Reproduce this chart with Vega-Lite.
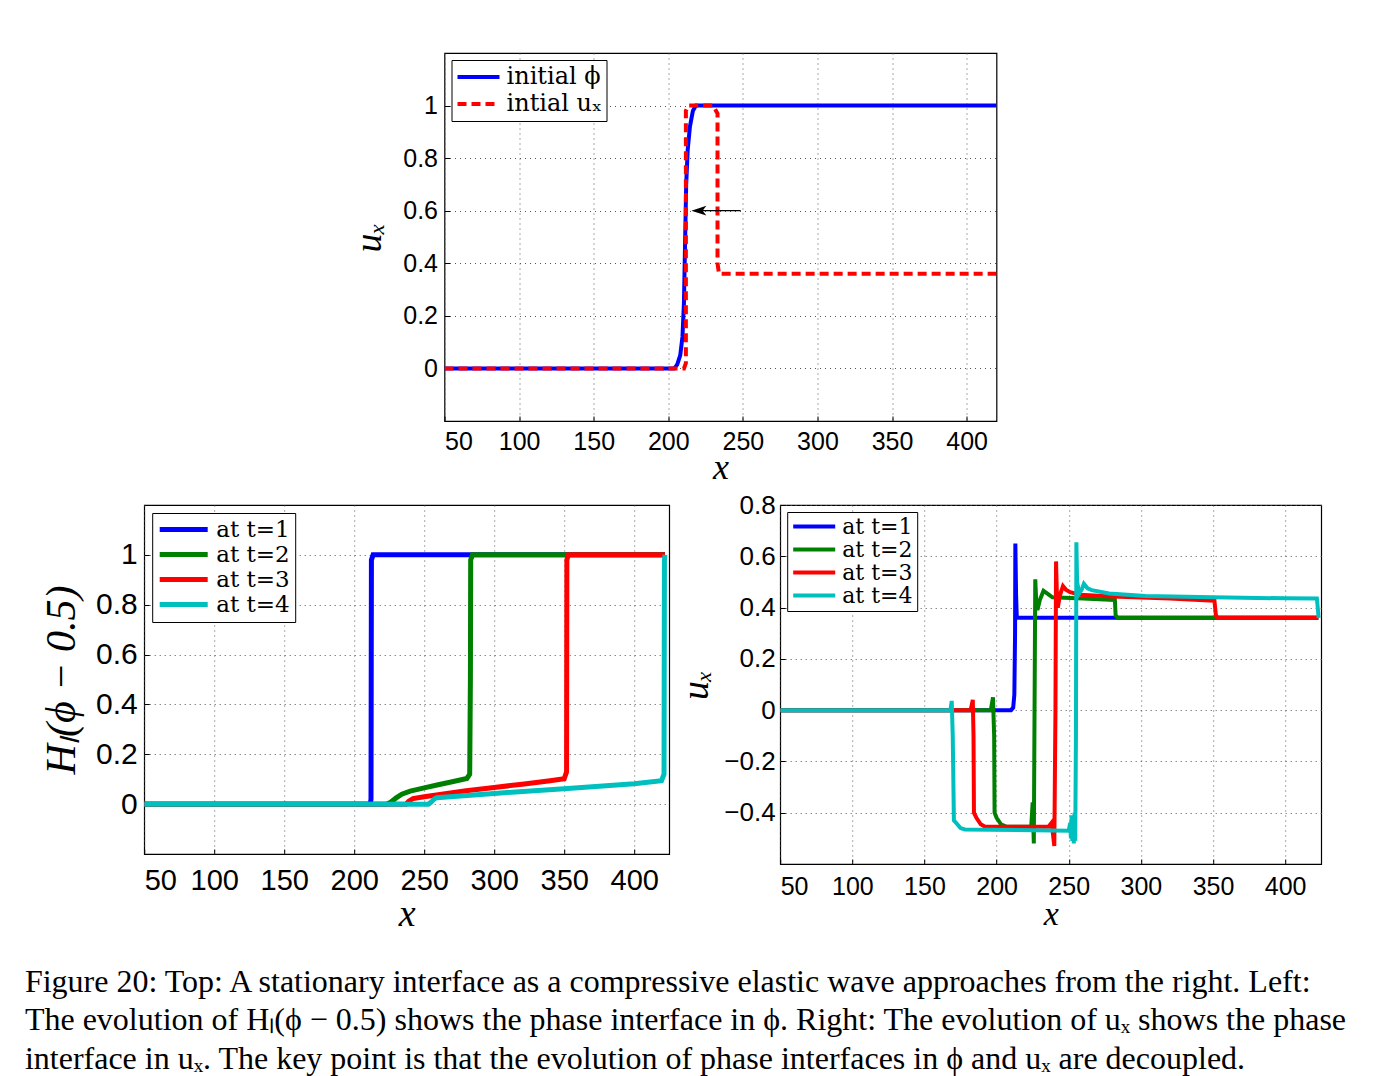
{
  "$schema": "https://vega.github.io/schema/vega-lite/v6.json",
  "background": "white",
  "padding": {"left": 24, "top": 52, "right": 5, "bottom": 5},
  "title": {
    "text": [
      "Figure 20: Top: A stationary interface as a compressive elastic wave approaches from the right. Left:",
      "The evolution of Hₗ(ϕ − 0.5) shows the phase interface in ϕ. Right: The evolution of uₓ shows the phase",
      "interface in uₓ. The key point is that the evolution of phase interfaces in ϕ and uₓ are decoupled."
    ],
    "orient": "bottom",
    "anchor": "start",
    "frame": "bounds",
    "font": "Liberation Serif",
    "fontSize": 32,
    "fontWeight": "normal",
    "color": "black",
    "lineHeight": 38.5,
    "offset": 33,
    "dx": -15
  },
  "spacing": 5,
  "center": true,
  "resolve": {"scale": {"x": "independent", "y": "independent", "color": "independent", "strokeDash": "independent"}, "legend": {"color": "independent", "strokeDash": "independent"}},
  "vconcat": [
    {
      "hconcat": [
        {
          "width": 552,
          "height": 368,
          "layer": [
            {
              "data": {"values": [
                {"x": 50, "y": 0, "s": "initial ϕ"}, {"x": 204, "y": 0, "s": "initial ϕ"}, {"x": 206, "y": 0.015, "s": "initial ϕ"},
                {"x": 208, "y": 0.05, "s": "initial ϕ"}, {"x": 209.5, "y": 0.12, "s": "initial ϕ"}, {"x": 210.5, "y": 0.25, "s": "initial ϕ"},
                {"x": 211, "y": 0.4, "s": "initial ϕ"}, {"x": 211.5, "y": 0.55, "s": "initial ϕ"}, {"x": 212, "y": 0.7, "s": "initial ϕ"},
                {"x": 213, "y": 0.83, "s": "initial ϕ"}, {"x": 214.5, "y": 0.92, "s": "initial ϕ"}, {"x": 216.5, "y": 0.98, "s": "initial ϕ"},
                {"x": 218.5, "y": 1, "s": "initial ϕ"}, {"x": 420, "y": 1, "s": "initial ϕ"},
                {"x": 50, "y": 0, "s": "intial uₓ"}, {"x": 210.5, "y": 0, "s": "intial uₓ"}, {"x": 211.8, "y": 0.02, "s": "intial uₓ"},
                {"x": 211.8, "y": 0.98, "s": "intial uₓ"}, {"x": 213.5, "y": 1, "s": "intial uₓ"}, {"x": 230, "y": 1, "s": "intial uₓ"},
                {"x": 233, "y": 0.97, "s": "intial uₓ"}, {"x": 233, "y": 0.4, "s": "intial uₓ"}, {"x": 234, "y": 0.36, "s": "intial uₓ"},
                {"x": 420, "y": 0.36, "s": "intial uₓ"}
              ]},
              "mark": {"type": "line", "strokeWidth": 4, "clip": true},
              "encoding": {
                "x": {"field": "x", "type": "quantitative", "scale": {"domain": [50, 420], "nice": false, "zero": false},
                      "axis": {"title": "x", "values": [50, 100, 150, 200, 250, 300, 350, 400], "labelFontSize": 25, "titleFontSize": 36, "labelPadding": 13, "titlePadding": -4}},
                "y": {"field": "y", "type": "quantitative", "scale": {"domain": [-0.2, 1.2], "nice": false, "zero": false},
                      "axis": {"title": "uₓ", "values": [0, 0.2, 0.4, 0.6, 0.8, 1], "format": "~g", "labelFontSize": 25, "titleFontSize": 38, "labelPadding": 12, "titlePadding": 14}},
                "color": {"field": "s", "type": "nominal", "scale": {"domain": ["initial ϕ", "intial uₓ"], "range": ["#0000ff", "#ff0000"]},
                          "legend": {"title": null, "orient": "top-left", "offset": 7, "padding": 4, "strokeColor": "black", "fillColor": "white", "symbolType": "stroke", "symbolSize": 1764, "symbolStrokeWidth": 4, "labelFont": "DejaVu Serif", "labelFontSize": 24, "labelColor": "black", "labelOffset": 5, "clipHeight": 26, "rowPadding": 1}},
                "strokeDash": {"field": "s", "type": "nominal", "scale": {"domain": ["initial ϕ", "intial uₓ"], "range": [[1, 0], [9, 5]]},
                          "legend": {"title": null, "orient": "top-left", "offset": 7, "padding": 4, "strokeColor": "black", "fillColor": "white", "symbolType": "stroke", "symbolSize": 1764, "symbolStrokeWidth": 4, "labelFont": "DejaVu Serif", "labelFontSize": 24, "labelColor": "black", "labelOffset": 5, "clipHeight": 26, "rowPadding": 1}}
              }
            },
            {
              "data": {"values": [{"xa": 221, "xb": 248.5, "y": 0.6}]},
              "mark": {"type": "rule", "color": "black", "strokeWidth": 1.3},
              "encoding": {
                "x": {"field": "xa", "type": "quantitative"},
                "x2": {"field": "xb"},
                "y": {"field": "y", "type": "quantitative"}
              }
            },
            {
              "data": {"values": [{"x": 220.5, "y": 0.6}]},
              "mark": {"type": "point", "shape": "M -1 0 L 1 -0.65 L 0.5 0 L 1 0.65 Z", "size": 225, "filled": true, "color": "black", "opacity": 1, "strokeWidth": 0},
              "encoding": {
                "x": {"field": "x", "type": "quantitative"},
                "y": {"field": "y", "type": "quantitative"}
              }
            }
          ]
        },
        {
          "width": 25,
          "height": 368,
          "data": {"values": []},
          "mark": "point",
          "view": {"stroke": null}
        }
      ],
      "spacing": 0,
      "bounds": "flush"
    },
    {
      "hconcat": [
        {
          "width": 525,
          "height": 349,
          "data": {"values": [
            {"x": 50, "y": 0, "s": "at t=1"}, {"x": 211.5, "y": 0, "s": "at t=1"}, {"x": 212, "y": 0.02, "s": "at t=1"},
            {"x": 212.3, "y": 0.98, "s": "at t=1"}, {"x": 213.5, "y": 1, "s": "at t=1"}, {"x": 422, "y": 1, "s": "at t=1"},
            {"x": 50, "y": 0, "s": "at t=2"}, {"x": 223, "y": 0, "s": "at t=2"}, {"x": 226, "y": 0.008, "s": "at t=2"},
            {"x": 230, "y": 0.025, "s": "at t=2"}, {"x": 234, "y": 0.04, "s": "at t=2"}, {"x": 240, "y": 0.052, "s": "at t=2"},
            {"x": 250, "y": 0.065, "s": "at t=2"}, {"x": 260, "y": 0.078, "s": "at t=2"}, {"x": 270, "y": 0.09, "s": "at t=2"},
            {"x": 280.5, "y": 0.103, "s": "at t=2"}, {"x": 282.5, "y": 0.12, "s": "at t=2"}, {"x": 283, "y": 0.5, "s": "at t=2"},
            {"x": 283.2, "y": 0.98, "s": "at t=2"}, {"x": 284.5, "y": 1, "s": "at t=2"}, {"x": 422, "y": 1, "s": "at t=2"},
            {"x": 50, "y": 0, "s": "at t=3"}, {"x": 237, "y": 0, "s": "at t=3"}, {"x": 239, "y": 0.012, "s": "at t=3"},
            {"x": 242, "y": 0.022, "s": "at t=3"}, {"x": 250, "y": 0.03, "s": "at t=3"}, {"x": 260, "y": 0.038, "s": "at t=3"},
            {"x": 280, "y": 0.054, "s": "at t=3"}, {"x": 300, "y": 0.067, "s": "at t=3"}, {"x": 320, "y": 0.08, "s": "at t=3"},
            {"x": 340, "y": 0.094, "s": "at t=3"}, {"x": 350, "y": 0.102, "s": "at t=3"}, {"x": 351.7, "y": 0.13, "s": "at t=3"},
            {"x": 351.9, "y": 0.98, "s": "at t=3"}, {"x": 353, "y": 1, "s": "at t=3"}, {"x": 422, "y": 1, "s": "at t=3"},
            {"x": 50, "y": 0, "s": "at t=4"}, {"x": 253, "y": 0, "s": "at t=4"}, {"x": 255, "y": 0.008, "s": "at t=4"},
            {"x": 257, "y": 0.02, "s": "at t=4"}, {"x": 259, "y": 0.026, "s": "at t=4"}, {"x": 300, "y": 0.043, "s": "at t=4"},
            {"x": 350, "y": 0.062, "s": "at t=4"}, {"x": 400, "y": 0.082, "s": "at t=4"}, {"x": 419.5, "y": 0.094, "s": "at t=4"},
            {"x": 421.3, "y": 0.12, "s": "at t=4"}, {"x": 421.6, "y": 0.98, "s": "at t=4"}, {"x": 422, "y": 1, "s": "at t=4"}
          ]},
          "mark": {"type": "line", "strokeWidth": 5, "clip": true},
          "encoding": {
            "x": {"field": "x", "type": "quantitative", "scale": {"domain": [50, 425], "nice": false, "zero": false},
                  "axis": {"title": "x", "values": [50, 100, 150, 200, 250, 300, 350, 400], "labelFontSize": 29, "titleFontSize": 38, "labelPadding": 17, "titlePadding": 0}},
            "y": {"field": "y", "type": "quantitative", "scale": {"domain": [-0.2, 1.2], "nice": false, "zero": false},
                  "axis": {"title": "Hₗ(ϕ − 0.5)", "values": [0, 0.2, 0.4, 0.6, 0.8, 1], "format": "~g", "labelFontSize": 30, "titleFontSize": 42, "labelPadding": 12, "titlePadding": 12}},
            "color": {"field": "s", "type": "nominal", "scale": {"domain": ["at t=1", "at t=2", "at t=3", "at t=4"], "range": ["#0000ff", "#008000", "#ff0000", "#00bfbf"]},
                      "legend": {"title": null, "orient": "top-left", "offset": 8, "padding": 5, "strokeColor": "black", "fillColor": "white", "symbolType": "stroke", "symbolSize": 2304, "symbolStrokeWidth": 5, "labelFont": "DejaVu Serif", "labelFontSize": 23, "labelColor": "black", "labelOffset": 6, "clipHeight": 23, "rowPadding": 1}}
          }
        },
        {
          "width": 541,
          "height": 359,
          "data": {"values": [
            {"x": 50, "y": 0, "s": "at t=1"}, {"x": 210, "y": 0, "s": "at t=1"}, {"x": 211.5, "y": 0.01, "s": "at t=1"},
            {"x": 212.3, "y": 0.06, "s": "at t=1"}, {"x": 212.8, "y": 0.3, "s": "at t=1"}, {"x": 213, "y": 0.65, "s": "at t=1"},
            {"x": 213.5, "y": 0.45, "s": "at t=1"}, {"x": 214, "y": 0.36, "s": "at t=1"}, {"x": 423, "y": 0.36, "s": "at t=1"},
            {"x": 50, "y": 0, "s": "at t=2"}, {"x": 196, "y": 0, "s": "at t=2"}, {"x": 197.5, "y": 0.05, "s": "at t=2"},
            {"x": 198.3, "y": -0.1, "s": "at t=2"}, {"x": 198.6, "y": -0.4, "s": "at t=2"}, {"x": 200, "y": -0.42, "s": "at t=2"},
            {"x": 203, "y": -0.445, "s": "at t=2"}, {"x": 207, "y": -0.455, "s": "at t=2"}, {"x": 224, "y": -0.455, "s": "at t=2"},
            {"x": 225, "y": -0.36, "s": "at t=2"}, {"x": 225.8, "y": -0.52, "s": "at t=2"}, {"x": 226.5, "y": 0.2, "s": "at t=2"},
            {"x": 226.8, "y": 0.51, "s": "at t=2"}, {"x": 227.5, "y": 0.42, "s": "at t=2"}, {"x": 228.3, "y": 0.39, "s": "at t=2"},
            {"x": 230, "y": 0.43, "s": "at t=2"}, {"x": 232.5, "y": 0.465, "s": "at t=2"}, {"x": 235, "y": 0.455, "s": "at t=2"},
            {"x": 238.7, "y": 0.44, "s": "at t=2"}, {"x": 260, "y": 0.435, "s": "at t=2"}, {"x": 282, "y": 0.43, "s": "at t=2"},
            {"x": 282.5, "y": 0.37, "s": "at t=2"}, {"x": 283.8, "y": 0.36, "s": "at t=2"}, {"x": 423, "y": 0.36, "s": "at t=2"},
            {"x": 50, "y": 0, "s": "at t=3"}, {"x": 182, "y": 0, "s": "at t=3"}, {"x": 183.5, "y": 0.04, "s": "at t=3"},
            {"x": 184, "y": -0.1, "s": "at t=3"}, {"x": 184.3, "y": -0.4, "s": "at t=3"}, {"x": 186, "y": -0.42, "s": "at t=3"},
            {"x": 189, "y": -0.445, "s": "at t=3"}, {"x": 192, "y": -0.455, "s": "at t=3"}, {"x": 236, "y": -0.455, "s": "at t=3"},
            {"x": 238, "y": -0.44, "s": "at t=3"}, {"x": 239, "y": -0.48, "s": "at t=3"}, {"x": 240, "y": -0.53, "s": "at t=3"},
            {"x": 240.8, "y": 0, "s": "at t=3"}, {"x": 241.2, "y": 0.58, "s": "at t=3"}, {"x": 241.8, "y": 0.45, "s": "at t=3"},
            {"x": 242.4, "y": 0.4, "s": "at t=3"}, {"x": 244, "y": 0.45, "s": "at t=3"}, {"x": 246, "y": 0.484, "s": "at t=3"},
            {"x": 248, "y": 0.47, "s": "at t=3"}, {"x": 251, "y": 0.46, "s": "at t=3"}, {"x": 258, "y": 0.45, "s": "at t=3"},
            {"x": 280, "y": 0.443, "s": "at t=3"}, {"x": 320, "y": 0.435, "s": "at t=3"}, {"x": 351, "y": 0.427, "s": "at t=3"},
            {"x": 352, "y": 0.37, "s": "at t=3"}, {"x": 353, "y": 0.36, "s": "at t=3"}, {"x": 423, "y": 0.36, "s": "at t=3"},
            {"x": 50, "y": 0, "s": "at t=4"}, {"x": 168, "y": 0, "s": "at t=4"}, {"x": 168.9, "y": 0.036, "s": "at t=4"},
            {"x": 169.6, "y": -0.1, "s": "at t=4"}, {"x": 170.4, "y": -0.43, "s": "at t=4"}, {"x": 172, "y": -0.44, "s": "at t=4"},
            {"x": 175, "y": -0.46, "s": "at t=4"}, {"x": 178, "y": -0.465, "s": "at t=4"}, {"x": 250, "y": -0.47, "s": "at t=4"},
            {"x": 251, "y": -0.44, "s": "at t=4"}, {"x": 251.5, "y": -0.5, "s": "at t=4"}, {"x": 252, "y": -0.41, "s": "at t=4"},
            {"x": 252.5, "y": -0.51, "s": "at t=4"}, {"x": 253, "y": -0.42, "s": "at t=4"}, {"x": 253.5, "y": -0.52, "s": "at t=4"},
            {"x": 254, "y": -0.4, "s": "at t=4"}, {"x": 254.5, "y": -0.51, "s": "at t=4"}, {"x": 255, "y": -0.1, "s": "at t=4"},
            {"x": 255.3, "y": 0.655, "s": "at t=4"}, {"x": 255.8, "y": 0.5, "s": "at t=4"}, {"x": 257.3, "y": 0.455, "s": "at t=4"},
            {"x": 259, "y": 0.47, "s": "at t=4"}, {"x": 260.5, "y": 0.493, "s": "at t=4"}, {"x": 263, "y": 0.475, "s": "at t=4"},
            {"x": 266, "y": 0.468, "s": "at t=4"}, {"x": 278, "y": 0.455, "s": "at t=4"}, {"x": 303, "y": 0.445, "s": "at t=4"},
            {"x": 350, "y": 0.44, "s": "at t=4"}, {"x": 400, "y": 0.436, "s": "at t=4"}, {"x": 422, "y": 0.435, "s": "at t=4"},
            {"x": 422.6, "y": 0.4, "s": "at t=4"}, {"x": 423.2, "y": 0.36, "s": "at t=4"}
          ]},
          "mark": {"type": "line", "strokeWidth": 4, "clip": true},
          "encoding": {
            "x": {"field": "x", "type": "quantitative", "scale": {"domain": [50, 425], "nice": false, "zero": false},
                  "axis": {"title": "x", "values": [50, 100, 150, 200, 250, 300, 350, 400], "labelFontSize": 25, "titleFontSize": 34, "labelPadding": 15, "titlePadding": -2}},
            "y": {"field": "y", "type": "quantitative", "scale": {"domain": [-0.6, 0.8], "nice": false, "zero": false},
                  "axis": {"title": "uₓ", "values": [-0.4, -0.2, 0, 0.2, 0.4, 0.6, 0.8], "format": "~g", "labelFontSize": 26, "titleFontSize": 38, "labelPadding": 10, "titlePadding": 8}},
            "color": {"field": "s", "type": "nominal", "scale": {"domain": ["at t=1", "at t=2", "at t=3", "at t=4"], "range": ["#0000ff", "#008000", "#ff0000", "#00bfbf"]},
                      "legend": {"title": null, "orient": "top-left", "offset": 7, "padding": 4, "strokeColor": "black", "fillColor": "white", "symbolType": "stroke", "symbolSize": 1764, "symbolStrokeWidth": 4, "labelFont": "DejaVu Serif", "labelFontSize": 22, "labelColor": "black", "labelOffset": 5, "clipHeight": 21, "rowPadding": 0}}
          }
        }
      ],
      "spacing": 111,
      "bounds": "flush",
      "resolve": {"scale": {"x": "independent", "y": "independent", "color": "independent"}, "legend": {"color": "independent"}}
    }
  ],
  "config": {
    "view": {"stroke": "black", "strokeWidth": 1.2},
    "axis": {
      "labelFont": "Liberation Sans",
      "labelColor": "black",
      "titleFont": "Liberation Serif",
      "titleFontStyle": "italic",
      "titleFontWeight": "normal",
      "titleColor": "black",
      "domain": false,
      "ticks": true,
      "tickColor": "black",
      "tickSize": -5,
      "grid": true,
      "gridColor": "#555555",
      "gridDash": [1, 4],
      "gridWidth": 1
    }
  }
}
